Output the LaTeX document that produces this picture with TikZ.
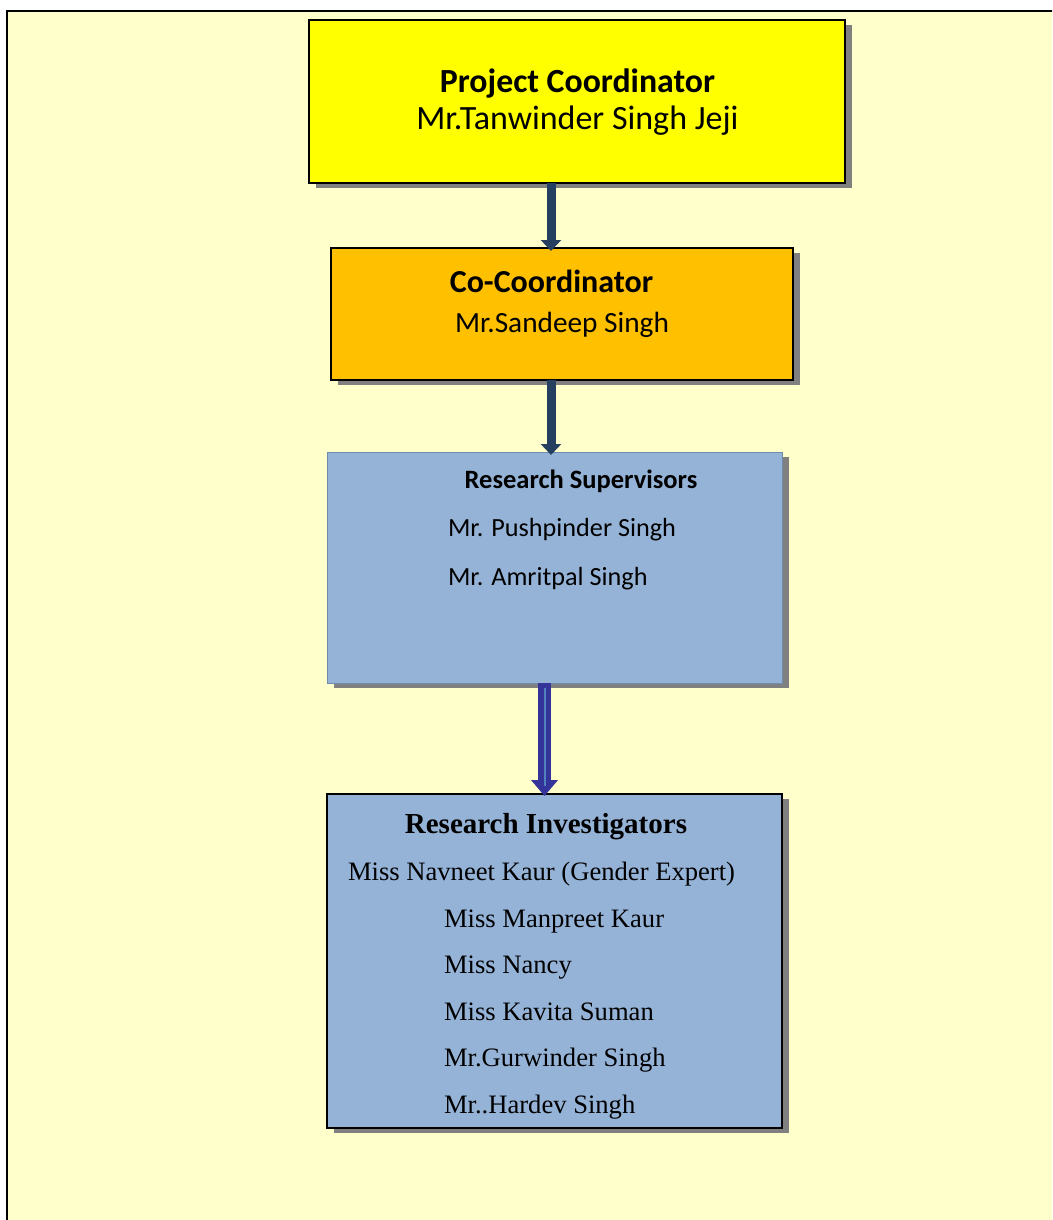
\documentclass[tikz,border=0pt]{standalone}
\usepackage{fontspec}
\usetikzlibrary{arrows.meta,shadows}
\newfontfamily\calfont{Carlito}
\newfontfamily\timesfont{Liberation Serif}
\definecolor{pagebg}{HTML}{FFFFCC}
\definecolor{pcyellow}{HTML}{FFFF00}
\definecolor{coorange}{HTML}{FFC000}
\definecolor{boxblue}{HTML}{95B3D7}
\definecolor{supedge}{HTML}{6E8CAE}
\definecolor{boxshadow}{HTML}{808080}
\definecolor{navyarrow}{HTML}{243F60}
\definecolor{indigoarrow}{HTML}{333399}
\definecolor{arrowcore}{HTML}{4F81BD}

\begin{document}
\begin{tikzpicture}[x=1pt,y=-1pt]
\tikzstyle{box}=[draw=black,line width=2pt,anchor=north west,inner sep=0pt,outer sep=0pt,
  general shadow={fill=boxshadow,shadow xshift=7pt,shadow yshift=-5pt}]
\tikzstyle{txt}=[inner sep=0pt,outer sep=0pt]
\tikzstyle{link}=[navyarrow,line width=9pt,shorten >=-3pt,-{Triangle[width=20pt,length=11pt]}]
\tikzstyle{biglink}=[indigoarrow,line width=13pt,shorten >=-2pt,-{Triangle[width=26pt,length=16pt]}]

\useasboundingbox (0,0) rectangle (1052,1220);
\clip (0,0) rectangle (1052,1220);
\fill[white] (0,0) rectangle (1052,1220);
\draw[fill=pagebg,line width=2.5pt] (7,1240) -- (7,11) -- (1070,11) -- (1070,1240) -- cycle;

% boxes
\node[box,fill=pcyellow,minimum width=536pt,minimum height=163pt] (coord) at (309,20) {};
\node[box,fill=coorange,minimum width=462pt,minimum height=132pt] (cocoord) at (331,248) {};
\node[box,draw=supedge,line width=1pt,fill=boxblue,minimum width=455pt,minimum height=231pt] (superv) at (327,452) {};
\node[box,fill=boxblue,minimum width=455pt,minimum height=334pt] (invest) at (327,794) {};

% texts
\node[txt,anchor=base,font=\calfont\bfseries\fontsize{33.8}{40}\selectfont] (coordtitle) at (577.5,93) {Project Coordinator};
\node[txt,anchor=base,font=\calfont\fontsize{34}{40}\selectfont] (coordname) at (577.5,129) {Mr.Tanwinder Singh Jeji};
\node[txt,anchor=base,font=\calfont\bfseries\fontsize{32}{38}\selectfont] (cotitle) at (551.5,292) {Co-Coordinator};
\node[txt,anchor=base,font=\calfont\fontsize{29.3}{34}\selectfont] (coname) at (562,332) {Mr.Sandeep Singh};
\node[txt,anchor=base,font=\calfont\bfseries\fontsize{26.5}{32}\selectfont] (suptitle) at (581,488) {Research Supervisors};
\node[txt,anchor=base west,font=\calfont\fontsize{26.2}{32}\selectfont] (supa) at (448,536) {Mr. Pushpinder Singh};
\node[txt,anchor=base west,font=\calfont\fontsize{26.2}{32}\selectfont] (supb) at (448,585) {Mr. Amritpal Singh};
\node[txt,anchor=base,font=\timesfont\bfseries\fontsize{29}{35}\selectfont] (invtitle) at (546,833) {Research Investigators};
\node[txt,anchor=base west,font=\timesfont\fontsize{26.6}{32}\selectfont] (inva) at (348,880) {Miss Navneet Kaur (Gender Expert)};
\node[txt,anchor=base west,font=\timesfont\fontsize{26.6}{32}\selectfont] (invb) at (444,927) {Miss Manpreet Kaur};
\node[txt,anchor=base west,font=\timesfont\fontsize{26.6}{32}\selectfont] (invc) at (444,973) {Miss Nancy};
\node[txt,anchor=base west,font=\timesfont\fontsize{26.6}{32}\selectfont] (invd) at (444,1020) {Miss Kavita Suman};
\node[txt,anchor=base west,font=\timesfont\fontsize{26.6}{32}\selectfont] (inve) at (444,1066) {Mr.Gurwinder Singh};
\node[txt,anchor=base west,font=\timesfont\fontsize{26.6}{32}\selectfont] (invf) at (444,1113) {Mr..Hardev Singh};

% arrows
\draw[link] (coord.south -| 551,0) -- (cocoord.north -| 551,0);
\draw[link] (cocoord.south -| 551,0) -- (superv.north -| 551,0);
\draw[biglink] (superv.south -| 544.5,0) -- (invest.north -| 544.5,0);
\draw[arrowcore,line width=2pt,shorten <=5pt,shorten >=8pt] (superv.south -| 544.5,0) -- (invest.north -| 544.5,0);
\end{tikzpicture}
\end{document}
